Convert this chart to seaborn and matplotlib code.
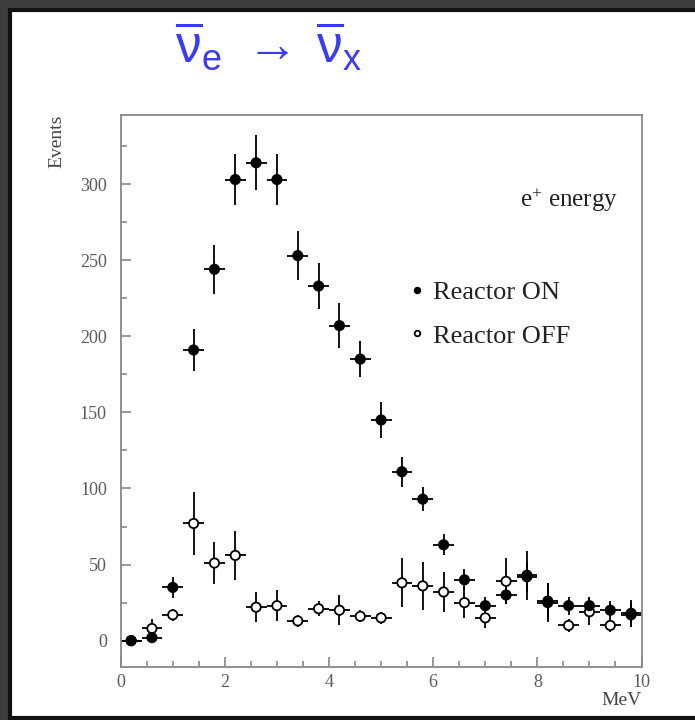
import matplotlib
matplotlib.use("Agg")
import matplotlib.pyplot as plt
import matplotlib.patches as mpatches
from matplotlib.ticker import MultipleLocator
import seaborn as sns
import pandas as pd

# ---------------- data ----------------
energy = [0.2, 0.6, 1.0, 1.4, 1.8, 2.2, 2.6, 3.0, 3.4, 3.8, 4.2, 4.6, 5.0,
          5.4, 5.8, 6.2, 6.6, 7.0, 7.4, 7.8, 8.2, 8.6, 9.0, 9.4, 9.8]
on_events = [0, 2, 35, 191, 244, 303, 314, 303, 253, 233, 207, 185, 145,
             111, 93, 63, 40, 23, 30, 43, 25, 23, 23, 20, 18]
on_err = [3, 3, 7, 14, 16, 17, 18, 17, 16, 15, 15, 12, 12,
          10, 8, 7, 7, 6, 6, 16, 13, 6, 6, 6, 9]
off_events = [0, 8, 17, 77, 51, 56, 22, 23, 13, 21, 20, 16, 15,
              38, 36, 32, 25, 15, 39, 42, 26, 10, 19, 10, 17]
off_err = [3, 6, 4, 21, 14, 16, 10, 10, 4, 5, 10, 4, 4,
           16, 16, 13, 10, 7, 15, 10, 12, 4, 9, 4, 8]
bin_half_width = 0.2
series_names = ["Reactor ON", "Reactor OFF"]
y_ticks = [0, 50, 100, 150, 200, 250, 300]
x_ticks = [0, 2, 4, 6, 8, 10]

df = pd.concat([
    pd.DataFrame({"MeV": energy, "Events": off_events, "Reactor": series_names[1]}),
    pd.DataFrame({"MeV": energy, "Events": on_events, "Reactor": series_names[0]}),
], ignore_index=True)

# ---------------- style ----------------
sns.set_style("ticks")
plt.rcParams["font.family"] = ["Liberation Serif", "DejaVu Serif"]
plt.rcParams["mathtext.fontset"] = "dejavusans"
plt.rcParams["mathtext.default"] = "regular"

fig = plt.figure(figsize=(6.95, 7.2), dpi=100)
fig.patch.set_facecolor("#3d3d3d")
panel = mpatches.Rectangle((10 / 695, 2 / 720), 1.0, 708 / 720,
                           transform=fig.transFigure, facecolor="white",
                           edgecolor="#111111", linewidth=3, zorder=-10)
fig.patches.append(panel)

ax = fig.add_axes([120.7 / 695, 53 / 720, (641.5 - 120.7) / 695, 552 / 720])
ax.set_zorder(5)
ax.set_facecolor("white")

ax.errorbar(energy, off_events, yerr=off_err, xerr=bin_half_width, fmt="none",
            ecolor="black", elinewidth=1.3, capsize=0, zorder=2)
ax.errorbar(energy, on_events, yerr=on_err, xerr=bin_half_width, fmt="none",
            ecolor="black", elinewidth=1.3, capsize=0, zorder=2)

sns.scatterplot(data=df, x="MeV", y="Events", hue="Reactor",
                hue_order=series_names,
                palette={series_names[0]: "black", series_names[1]: "white"},
                edgecolor="black", linewidth=1.3, s=45, zorder=3, ax=ax)

ax.set_xlim(0, 10)
ax.set_ylim(-17.3, 345.4)
ax.set_xticks(x_ticks)
ax.set_yticks(y_ticks)
ax.xaxis.set_minor_locator(MultipleLocator(0.5))
ax.yaxis.set_minor_locator(MultipleLocator(25))
for s in ax.spines.values():
    s.set_color("#888888")
    s.set_linewidth(1.3)
ax.tick_params(which="both", direction="in", color="#888888", width=1.2,
               top=False, right=False)
ax.tick_params(which="major", length=7)
ax.tick_params(which="minor", length=4)
ax.tick_params(axis="y", which="major", labelsize=13, labelcolor="#5a5a5a", pad=10)
ax.tick_params(axis="x", which="major", labelsize=13, labelcolor="#5a5a5a", pad=5)

ax.set_xlabel("MeV", loc="right", fontsize=14, color="#444444")
ax.xaxis.set_label_coords(1.0, -0.045)
ax.set_ylabel("Events", loc="top", fontsize=14, color="#444444")
ax.yaxis.set_label_coords(-0.107, 1.0)

ax.text(0.955, 0.846, r"e$^{+}$ energy", transform=ax.transAxes, ha="right",
        va="center", fontsize=18, color="#222222")

leg = ax.legend(loc="upper left", bbox_to_anchor=(0.518, 0.724), frameon=False,
                fontsize=19, handletextpad=0.1, handlelength=1.0,
                borderpad=0, labelspacing=0.76, markerscale=0.6)
for t in leg.get_texts():
    t.set_color("#222222")

fig.text(0.386, 0.936, r"$\overline{\nu}_{e}\;\rightarrow\,\overline{\nu}_{x}$",
         color="#3a3aff", fontsize=37, ha="center", va="center",
         family=["Liberation Sans", "DejaVu Sans"])

fig.savefig("out.png", dpi=100, facecolor=fig.get_facecolor())
